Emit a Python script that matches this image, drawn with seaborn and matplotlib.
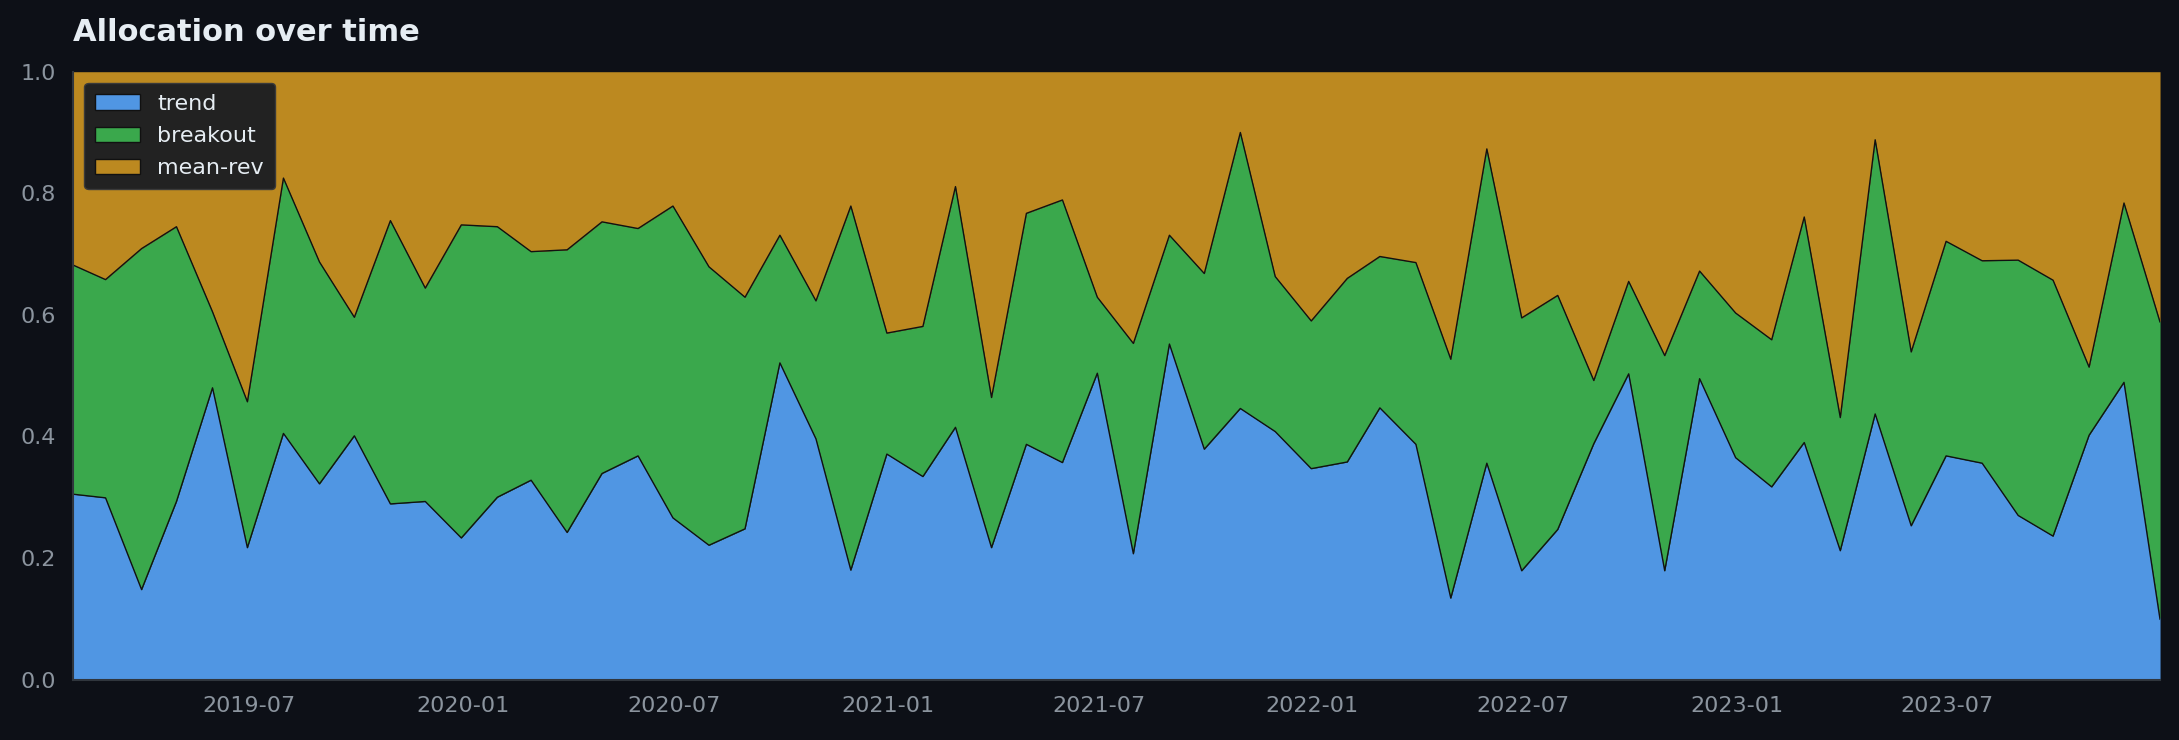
import numpy as np
import pandas as pd
import matplotlib
matplotlib.use("Agg")
import matplotlib.pyplot as plt
import matplotlib.dates as mdates
import seaborn as sns

months = pd.date_range("2019-01-31", "2023-12-31", freq="ME")

trend = [0.305, 0.299, 0.148, 0.293, 0.480, 0.217, 0.405, 0.322, 0.401, 0.289,
         0.293, 0.233, 0.300, 0.328, 0.242, 0.339, 0.368, 0.266, 0.221, 0.248,
         0.521, 0.396, 0.180, 0.371, 0.334, 0.415, 0.217, 0.387, 0.357, 0.504,
         0.207, 0.552, 0.379, 0.446, 0.408, 0.347, 0.358, 0.447, 0.387, 0.134,
         0.356, 0.179, 0.247, 0.388, 0.503, 0.179, 0.495, 0.365, 0.317, 0.390,
         0.212, 0.437, 0.253, 0.368, 0.356, 0.270, 0.236, 0.402, 0.489, 0.099]

trend_plus_breakout = [0.682, 0.658, 0.709, 0.745, 0.605, 0.457, 0.825, 0.687, 0.596, 0.755,
                       0.644, 0.748, 0.745, 0.704, 0.707, 0.753, 0.742, 0.779, 0.679, 0.629,
                       0.731, 0.623, 0.779, 0.570, 0.581, 0.811, 0.464, 0.767, 0.789, 0.629,
                       0.553, 0.731, 0.668, 0.900, 0.663, 0.590, 0.660, 0.696, 0.686, 0.527,
                       0.873, 0.595, 0.632, 0.492, 0.655, 0.533, 0.672, 0.603, 0.559, 0.761,
                       0.431, 0.888, 0.539, 0.721, 0.689, 0.690, 0.657, 0.514, 0.784, 0.588]

breakout = list(np.round(np.array(trend_plus_breakout) - np.array(trend), 3))
mean_rev = list(np.round(1 - np.array(trend_plus_breakout), 3))

series_names = ["trend", "breakout", "mean-rev"]
colors = ["#5096e3", "#3aa84c", "#bc8920"]

BG = "#0d1017"
TICK = "#8b949e"
SPINE = "#30363d"

sns.set_theme(style="dark", rc={
    "figure.facecolor": BG,
    "axes.facecolor": BG,
    "axes.edgecolor": SPINE,
    "xtick.color": TICK,
    "ytick.color": TICK,
    "text.color": "#e6edf3",
})
plt.rcParams['font.family'] = ['DejaVu Sans']

fig = plt.figure(figsize=(21.79, 7.40), dpi=100)
ax = fig.add_axes([0.0335, 0.0816, 0.9578, 0.8215])

df = pd.DataFrame({"date": months, "trend": trend, "breakout": breakout, "mean-rev": mean_rev})
lower = np.zeros(len(df))
for name, c in zip(series_names, colors):
    upper = lower + df[name].values
    ax.fill_between(df["date"], lower, upper, color=c, linewidth=0, label=name)
    lower = upper

# boundary lines
df["b1"] = df["trend"]
df["b2"] = df["trend"] + df["breakout"]
sns.lineplot(data=df, x="date", y="b1", ax=ax, color="#111111", linewidth=1.0, legend=False)
sns.lineplot(data=df, x="date", y="b2", ax=ax, color="#111111", linewidth=1.0, legend=False)

ax.set_xlim(months[0], months[-1])
ax.set_ylim(0, 1.0)
ax.set_xlabel("")
ax.set_ylabel("")
ax.set_yticks([0.0, 0.2, 0.4, 0.6, 0.8, 1.0])
ax.set_yticklabels(["0.0", "0.2", "0.4", "0.6", "0.8", "1.0"])
ax.xaxis.set_major_locator(mdates.MonthLocator(bymonth=[1, 7]))
ax.xaxis.set_major_formatter(mdates.DateFormatter("%Y-%m"))
ax.tick_params(axis="both", labelsize=16, colors=TICK, length=6, width=1.2, pad=6)
for s in ["top", "right"]:
    ax.spines[s].set_visible(False)
for s in ["left", "bottom"]:
    ax.spines[s].set_visible(True)
    ax.spines[s].set_color(SPINE)
    ax.spines[s].set_linewidth(1.5)

ax.set_title("Allocation over time", loc="left", fontsize=22, fontweight="bold",
             color="#e6edf3", pad=22)

leg = ax.legend(handles=[plt.Rectangle((0, 0), 1, 1, facecolor=c, edgecolor="#111111", linewidth=1)
                         for c in colors],
                labels=series_names, loc="upper left", fontsize=16, frameon=True,
                facecolor="#222222", edgecolor="#3a3a3a", framealpha=1.0,
                borderpad=0.5, handlelength=2.0, handletextpad=0.8, labelspacing=0.55,
                borderaxespad=0.5)
for t in leg.get_texts():
    t.set_color("#e6edf3")

fig.savefig("out.png", dpi=100, facecolor=BG)
